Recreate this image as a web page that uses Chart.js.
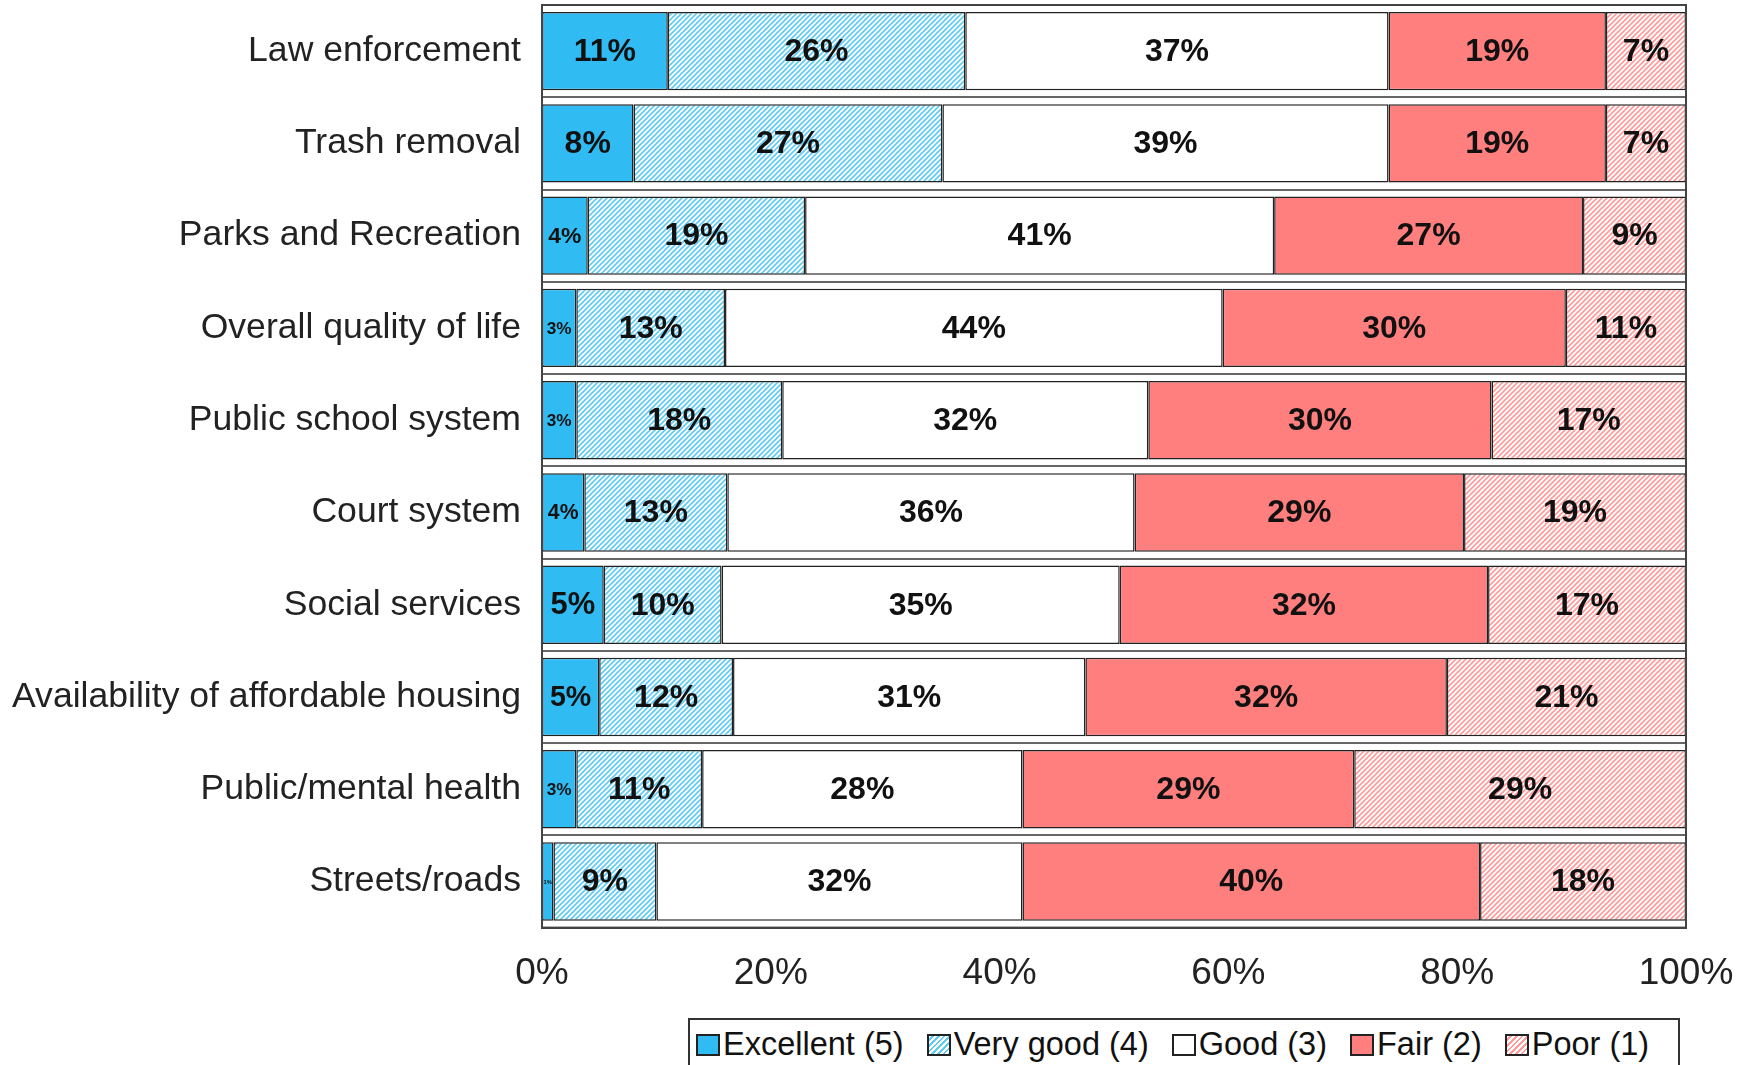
<!DOCTYPE html>
<html>
<head>
<meta charset="utf-8">
<script src="https://cdn.jsdelivr.net/npm/chart.js@4.4.1/dist/chart.umd.min.js"></script>
<style>
  body { margin: 0; background: #fff; }
  #wrap { position: relative; width: 1739px; height: 1065px; overflow: hidden; }
  #legend {
    position: absolute; left: 688px; top: 1018px; width: 992px; height: 60px;
    border: 2px solid #333; box-sizing: border-box; background: #fff;
    display: flex; align-items: flex-start; padding: 6px 0 0 6px;
    font-family: "Liberation Sans", Arial, sans-serif; font-size: 32.5px; color: #111;
  }
  .item { display: flex; align-items: center; margin-right: 23px; white-space: nowrap; }
  .sw { width: 24px; height: 22px; border: 2px solid #222; box-sizing: border-box; margin-right: 3px; }
</style>
</head>
<body>
<div id="wrap">
  <canvas id="chart" width="1739" height="1065"></canvas>
  <div id="legend"></div>
</div>
<script>
// ---- data ----
const categories = [
  "Law enforcement", "Trash removal", "Parks and Recreation", "Overall quality of life",
  "Public school system", "Court system", "Social services",
  "Availability of affordable housing", "Public/mental health", "Streets/roads"
];
const seriesNames = ["Excellent (5)", "Very good (4)", "Good (3)", "Fair (2)", "Poor (1)"];
const excellent = [11, 8, 4, 3, 3, 3.7, 5.4, 5, 3, 1];
const veryGood  = [26, 27, 19, 13, 18, 12.5, 10.3, 11.7, 11, 9];
const good      = [37, 39, 41, 43.5, 32, 35.6, 34.8, 30.8, 28, 32];
const fair      = [19, 19, 27, 30, 30, 28.8, 32.2, 31.6, 29, 40];
const poor      = [7, 7, 9, 10.5, 17, 19.4, 17.3, 20.9, 29, 18];
const xTicks = [0, 20, 40, 60, 80, 100];

// hatch pattern "/" lines on white
function hatch(color) {
  const n = 5;
  const c = document.createElement("canvas");
  c.width = n; c.height = n;
  const g = c.getContext("2d");
  g.fillStyle = "#fff";
  g.fillRect(0, 0, n, n);
  g.strokeStyle = color;
  g.lineWidth = 1.7;
  g.beginPath();
  g.moveTo(-1, n + 1); g.lineTo(n + 1, -1);
  g.moveTo(-1, 1); g.lineTo(1, -1);
  g.moveTo(n - 1, n + 1); g.lineTo(n + 1, n - 1);
  g.stroke();
  return g.createPattern(c, "repeat");
}

const ctx = document.getElementById("chart").getContext("2d");
const fills = ["#30bcf3", hatch("#62cbf4"), "#ffffff", "#ff7f7f", hatch("#ff9b9b")];
const swatchCss = [
  "#30bcf3",
  "repeating-linear-gradient(135deg, #fff 0 2px, #62cbf4 2px 4px)",
  "#fff",
  "#ff7f7f",
  "repeating-linear-gradient(135deg, #fff 0 2px, #ff9b9b 2px 4px)"
];
const allSeries = [excellent, veryGood, good, fair, poor];

// percent labels in the middle of each segment
const segLabels = {
  id: "segLabels",
  afterDatasetsDraw(chart) {
    const c = chart.ctx;
    c.save();
    c.textAlign = "center";
    c.textBaseline = "middle";
    c.fillStyle = "#111";
    chart.data.datasets.forEach((ds, i) => {
      chart.getDatasetMeta(i).data.forEach((bar, j) => {
        const w = Math.abs(bar.x - bar.base);
        const size = Math.min(32, w * 0.5);
        c.font = "bold " + size + "px 'Liberation Sans', Arial, sans-serif";
        c.fillText(Math.round(ds.data[j]) + "%", (bar.x + bar.base) / 2, bar.y + 1);
      });
    });
    c.restore();
  }
};

// frame round the plot
const frame = {
  id: "frame",
  afterDraw(chart) {
    const a = chart.chartArea, c = chart.ctx;
    c.save();
    c.strokeStyle = "#444";
    c.lineWidth = 2;
    c.strokeRect(a.left, a.top, a.right - a.left, a.bottom - a.top);
    c.restore();
  }
};

new Chart(ctx, {
  type: "bar",
  data: {
    labels: categories,
    datasets: allSeries.map((d, i) => ({
      label: seriesNames[i],
      data: d,
      backgroundColor: fills[i],
      borderColor: "#222",
      borderWidth: 1.5,
      borderSkipped: false,
      barPercentage: 0.85,
      categoryPercentage: 1
    }))
  },
  options: {
    indexAxis: "y",
    responsive: false,
    animation: false,
    layout: { padding: { left: 0, top: 5, right: 53, bottom: 45 } },
    plugins: { legend: { display: false }, tooltip: { enabled: false } },
    scales: {
      x: {
        stacked: true,
        min: 0, max: 100,
        afterBuildTicks: s => { s.ticks = xTicks.map(v => ({ value: v })); },
        afterFit: s => { s.paddingLeft = 0; s.paddingRight = 0; },
        grid: { display: false, drawTicks: false },
        border: { display: true, color: "#444", width: 2 },
        ticks: {
          padding: 24,
          color: "#222",
          maxRotation: 0,
          font: { family: "'Liberation Sans', Arial, sans-serif", size: 37 },
          callback: v => v + "%"
        }
      },
      y: {
        stacked: true,
        afterFit: s => { s.paddingTop = 0; s.paddingBottom = 0; s.width -= 9; },
        grid: { offset: true, color: "#666", lineWidth: 2, drawTicks: false },
        border: { display: true, color: "#444", width: 2 },
        ticks: {
          padding: 21,
          color: "#222",
          font: { family: "'Liberation Sans', Arial, sans-serif", size: 35.6 }
        }
      }
    }
  },
  plugins: [segLabels, frame]
});

// legend box
const lg = document.getElementById("legend");
seriesNames.forEach((n, i) => {
  const it = document.createElement("div");
  it.className = "item";
  it.innerHTML = '<span class="sw" style="background:' + swatchCss[i] + '"></span>' + n;
  lg.appendChild(it);
});
</script>
</body>
</html>
